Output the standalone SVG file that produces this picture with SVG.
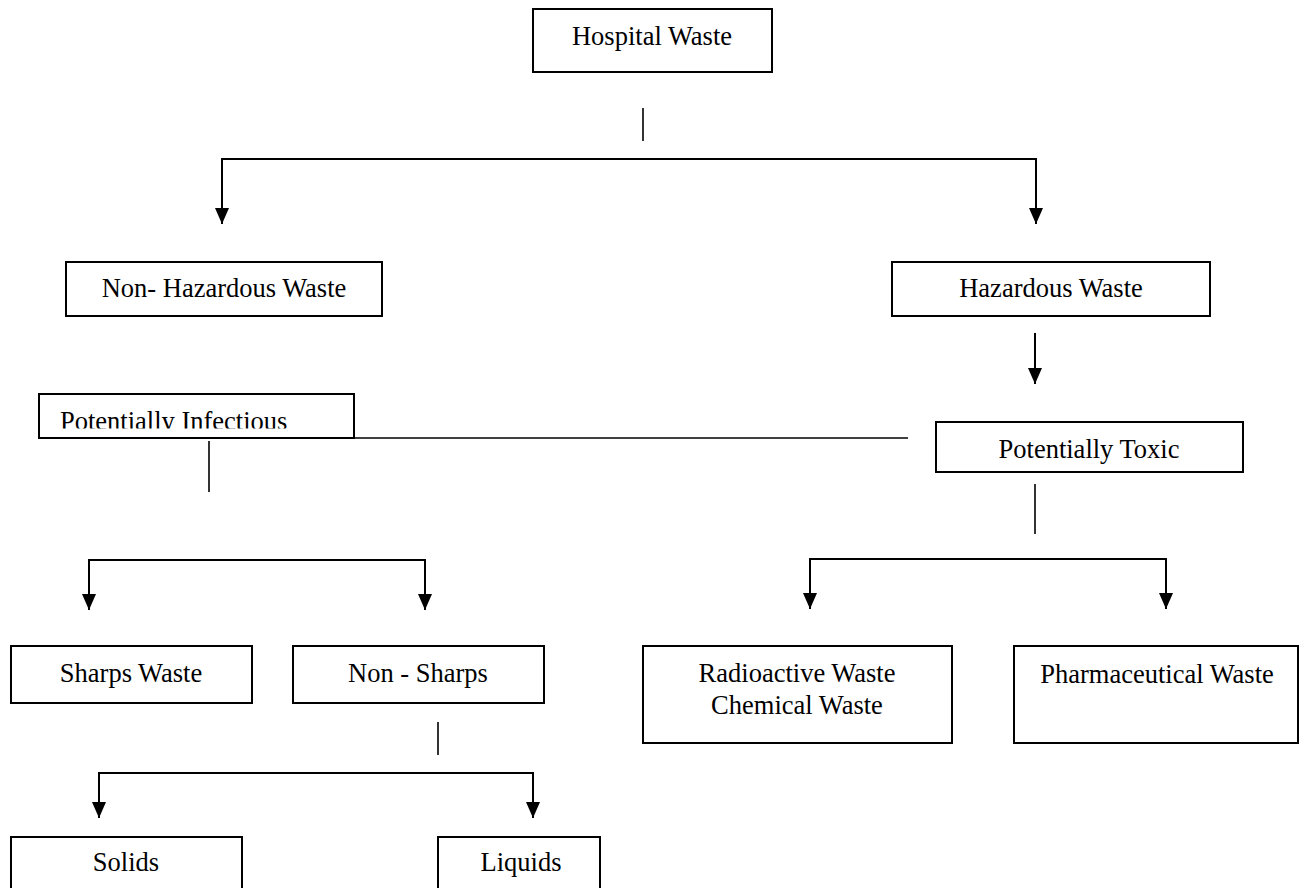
<svg xmlns="http://www.w3.org/2000/svg" width="1299" height="888" viewBox="0 0 1299 888">
<style>
.box{fill:#fff;stroke:#000;stroke-width:2}
.lbl{font-family:"Liberation Serif","Times New Roman",serif;font-size:26.5px;fill:#000;text-anchor:middle}
.lft{text-anchor:start}
.con{fill:none;stroke:#000;stroke-width:2}
.stub{fill:none;stroke:#000;stroke-width:1.6}
.arr{marker-end:url(#ah)}
</style>
<defs>
<marker id="ah" viewBox="0 0 16 14" markerWidth="16" markerHeight="14" refX="16" refY="7" orient="auto" markerUnits="userSpaceOnUse">
<path d="M0,0 L16,7 L0,14 Z" fill="#000"/>
</marker>
<clipPath id="clipInf"><rect x="39" y="394" width="315" height="34.5"/></clipPath>
</defs>
<rect width="1299" height="888" fill="#fff"/>
<g id="connectors">
<path class="stub" d="M643,108 V141"/>
<path class="con arr" d="M643,159 H222 V224"/>
<path class="con arr" d="M643,159 H1036 V224"/>
<path class="con arr" d="M1035,333 V384"/>
<path class="stub" d="M327,438 H908"/>
<path class="stub" d="M209,441 V492"/>
<path class="con arr" d="M257,560 H89 V610"/>
<path class="con arr" d="M257,560 H425 V610"/>
<path class="stub" d="M1035,484 V534"/>
<path class="stub" d="M988,559 H810"/>
<path class="con arr" d="M990,559 H810 V609"/>
<path class="con arr" d="M990,559 H1166 V609"/>
<path class="stub" d="M438,722 V755"/>
<path class="con arr" d="M316,773 H99 V818"/>
<path class="con arr" d="M316,773 H533 V818"/>
</g>
<g id="hospital">
<rect class="box" x="533" y="9" width="239" height="63"/>
<text class="lbl" x="652" y="45">Hospital Waste</text>
</g>
<g id="nonhaz">
<rect class="box" x="66" y="262" width="316" height="54"/>
<text class="lbl" x="224" y="297">Non- Hazardous Waste</text>
</g>
<g id="haz">
<rect class="box" x="892" y="262" width="318" height="54"/>
<text class="lbl" x="1051" y="297">Hazardous Waste</text>
</g>
<g id="infectious">
<rect class="box" x="39" y="394" width="315" height="44"/>
<text class="lbl lft" x="60" y="430" clip-path="url(#clipInf)">Potentially Infectious</text>
</g>
<g id="toxic">
<rect class="box" x="936" y="422" width="307" height="50"/>
<text class="lbl" x="1089" y="458">Potentially Toxic</text>
</g>
<g id="sharps">
<rect class="box" x="11" y="646" width="241" height="57"/>
<text class="lbl" x="131" y="682">Sharps Waste</text>
</g>
<g id="nonsharps">
<rect class="box" x="293" y="646" width="251" height="57"/>
<text class="lbl" x="418" y="682">Non - Sharps</text>
</g>
<g id="radio">
<rect class="box" x="643" y="646" width="309" height="97"/>
<text class="lbl" x="797" y="682">Radioactive Waste</text>
<text class="lbl" x="797" y="714">Chemical Waste</text>
</g>
<g id="pharma">
<rect class="box" x="1014" y="646" width="284" height="97"/>
<text class="lbl" x="1157" y="683">Pharmaceutical Waste</text>
</g>
<g id="solids">
<rect class="box" x="11" y="837" width="231" height="60"/>
<text class="lbl" x="126" y="871">Solids</text>
</g>
<g id="liquids">
<rect class="box" x="438" y="837" width="162" height="60"/>
<text class="lbl" x="521" y="871">Liquids</text>
</g>
</svg>
